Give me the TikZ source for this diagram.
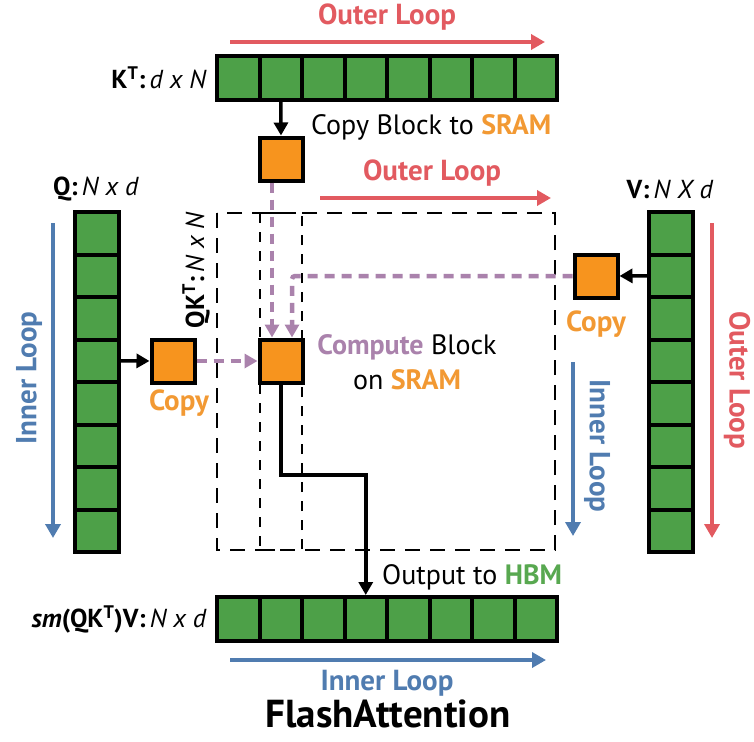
\documentclass[tikz,border=0pt]{standalone}
\usepackage{fontspec}
\setmainfont{PT Sans}
\usepackage{xcolor}
\usepackage{tikz}
\usetikzlibrary{
  arrows.meta,
  positioning,
  calc
}
\definecolor{cellgreen}{RGB}{77, 160, 72}
\definecolor{sramorange}{RGB}{247, 148, 30}
\definecolor{txtorange}{RGB}{242, 153, 51}
\definecolor{loopred}{RGB}{226, 90, 96}
\definecolor{loopblue}{RGB}{80, 124, 176}
\definecolor{flowpurple}{RGB}{170, 130, 172}
\definecolor{hbmgreen}{RGB}{88, 168, 80}
\newcommand{\lblfont}{\fontsize{26}{30}\selectfont}
\newcommand{\txtfont}{\fontsize{28}{35}\selectfont}
\newcommand{\loopfont}{\fontsize{29}{34}\selectfont}
\tikzset{
  rowcell/.style = {
    rectangle, draw=black, line width=4pt,
    fill=cellgreen, minimum width=42.5pt, minimum height=44pt,
    inner sep=0pt
  },
  colcell/.style = {
    rectangle, draw=black, line width=4pt,
    fill=cellgreen, minimum width=44pt, minimum height=42.5pt,
    inner sep=0pt
  },
  sramblock/.style = {
    rectangle, draw=black, line width=4pt,
    fill=sramorange, minimum size=43pt, inner sep=0pt
  },
  arrblk/.style  = {-{Triangle[length=13pt,width=14pt]}, draw=black, line width=3.5pt},
  arrred/.style  = {-{Triangle[length=14pt,width=15pt]}, draw=loopred, line width=4pt},
  arrblue/.style = {-{Triangle[length=14pt,width=15pt]}, draw=loopblue, line width=3.5pt},
  arrpur/.style  = {-{Triangle[length=13pt,width=14pt]}, draw=flowpurple,
    line width=4.5pt, dash pattern=on 10pt off 7pt},
  bigdash/.style = {draw=black, line width=2.2pt, dash pattern=on 15pt off 10pt},
  smalldash/.style = {draw=black, line width=2pt, dash pattern=on 10pt off 9pt},
  lbl/.style     = {font=\lblfont, inner sep=1pt},
  txt/.style     = {font=\txtfont, inner sep=1pt},
  redlbl/.style  = {font=\loopfont\bfseries, text=loopred, inner sep=1pt},
  bluelbl/.style = {font=\loopfont\bfseries, text=loopblue, inner sep=1pt},
  copylbl/.style = {font=\loopfont\bfseries, text=txtorange, inner sep=1pt},
}

\begin{document}
\begin{tikzpicture}[x=1pt, y=-1pt]
  \useasboundingbox (0,0) rectangle (754,741);

  % K^T row (top)
  \foreach \i in {1,...,8}
    \node[rowcell] (kt\i) at ({217+42.5*(\i-0.5)},78) {};
  \node[lbl, anchor=east] (ktlbl) at (208,78)
    {\textbf{K\textsuperscript{T}:}\,\textit{d x N}};
  \coordinate (ktloopA) at (230,42);
  \coordinate (ktloopB) at (545,42);
  \draw[arrred] (ktloopA) -- (ktloopB);
  \node[redlbl] (ktloop) at (387,17) {Outer Loop};

  % Q column (left)
  \foreach \i in {1,...,8}
    \node[colcell] (q\i) at (96.5,{212+42.5*(\i-0.5)}) {};
  \node[lbl] (qlbl) at (96,189) {\textbf{Q:}\,\textit{N x d}};
  \coordinate (qloopA) at (53,223);
  \coordinate (qloopB) at (53,538);
  \draw[arrblue] (qloopA) -- (qloopB);
  \node[bluelbl, rotate=90] (qloop) at (29,378) {Inner Loop};

  % V column (right)
  \foreach \i in {1,...,8}
    \node[colcell] (v\i) at (671,{212+42.5*(\i-0.5)}) {};
  \node[lbl] (vlbl) at (670,189) {\textbf{V:}\,\textit{N X d}};
  \coordinate (vloopA) at (712,223);
  \coordinate (vloopB) at (712,538);
  \draw[arrred] (vloopA) -- (vloopB);
  \node[redlbl, rotate=-90] (vloop) at (737,380) {Outer Loop};

  % QK^T block
  \draw[bigdash] (217,213) rectangle (555,550);
  \draw[smalldash] (260,213) rectangle (302,550);
  \node[lbl, rotate=90] (qktlbl) at (196,270)
    {\textbf{QK\textsuperscript{T}:}\,\textit{N x N}};
  \coordinate (oloopA) at (320,198);
  \coordinate (oloopB) at (551,198);
  \draw[arrred] (oloopA) -- (oloopB);
  \node[redlbl] (oloop) at (432,173) {Outer Loop};
  \coordinate (iloopA) at (573,362);
  \coordinate (iloopB) at (573,536);
  \draw[arrblue] (iloopA) -- (iloopB);
  \node[bluelbl, rotate=-90] (iloop) at (597,446) {Inner Loop};

  % SRAM blocks
  \node[sramblock] (kcopy) at (281,159) {};
  \node[sramblock] (qcopy) at (173,361) {};
  \node[sramblock] (comp) at (281,361) {};
  \node[sramblock] (vcopy) at (596,276) {};
  \node[copylbl, below=4pt of qcopy, xshift=6pt] (qcopylbl) {Copy};
  \node[copylbl, below=10pt of vcopy] (vcopylbl) {Copy};
  \node[txt, anchor=west] (kcopylbl) at (310,127)
    {Copy Block to \textbf{\textcolor{txtorange}{SRAM}}};
  \node[txt, align=center] (complbl) at (407,362)
    {\textbf{\textcolor{flowpurple}{Compute}} Block\\on \textbf{\textcolor{txtorange}{SRAM}}};

  % Output row (bottom)
  \foreach \i in {1,...,8}
    \node[rowcell] (o\i) at ({217+42.5*(\i-0.5)},619) {};
  \node[lbl, anchor=east] (olbl) at (208,619)
    {\textbf{\textit{sm}(QK\textsuperscript{T})V:}\,\textit{N x d}};
  \node[txt, anchor=west] (outlbl) at (381,577)
    {Output to \textbf{\textcolor{hbmgreen}{HBM}}};
  \coordinate (bloopA) at (230,660);
  \coordinate (bloopB) at (546,660);
  \draw[arrblue] (bloopA) -- (bloopB);
  \node[bluelbl] (bloop) at (387,683) {Inner Loop};
  \node[font=\fontsize{39}{44}\selectfont\bfseries, inner sep=0pt] (title) at (388,714) {FlashAttention};

  % Arrows
  \draw[arrblk] (kt2.south) -- (kcopy.north);
  \draw[arrblk] (q4.east) -- (qcopy.west);
  \draw[arrblk] (v2.west) -- (vcopy.east);
  \coordinate (turn) at (281,475);
  \draw[arrblk] (comp.south) -- (turn) -| (o4.north);
  \draw[arrpur] ([xshift=-9pt]kcopy.south) -- ([xshift=-9pt]comp.north);
  \draw[arrpur, rounded corners=3pt] (vcopy.west) -| ([xshift=11pt]comp.north);
  \draw[arrpur] (qcopy.east) -- (comp.west);

\end{tikzpicture}
\end{document}
